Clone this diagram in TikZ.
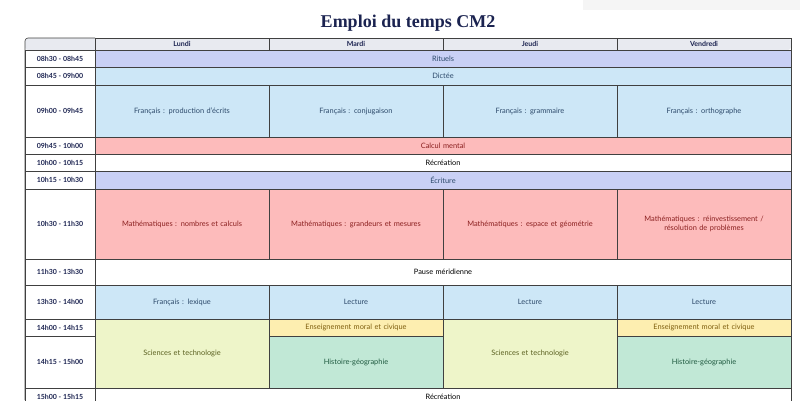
\documentclass[tikz,border=0pt]{standalone}
\usepackage{fontspec}
\setmainfont{Lato}
\newfontfamily\titlefont{Liberation Serif}
\definecolor{lav}{HTML}{C9D0F5}
\definecolor{sky}{HTML}{CDE7F7}
\definecolor{rose}{HTML}{FDBBBB}
\definecolor{sand}{HTML}{FDEEB0}
\definecolor{lime}{HTML}{EEF5C9}
\definecolor{mint}{HTML}{C1E8D6}
\definecolor{hdr}{HTML}{E8EAF0}
\definecolor{navy}{HTML}{1B2350}
\definecolor{tblue}{HTML}{2D4A6B}
\definecolor{tred}{HTML}{8B2020}
\definecolor{tsand}{HTML}{806010}
\definecolor{tlime}{HTML}{5A6020}
\definecolor{tmint}{HTML}{1F5A40}
\newcommand{\slot}[7]{% name, x1, y1, x2, y2, fill, text colour / text
  \draw[cellline, fill=#6] (#2,#3) rectangle (#4,#5);
  \node (#1) [celltext] at ($(#2,#3)!0.5!(#4,#5)$) {#7};}
\usetikzlibrary{calc}
\begin{document}
\begin{tikzpicture}[x=1pt, y=-1pt,
		cellline/.style={draw=black!75, line width=0.6pt},
		celltext/.style={font=\fontsize{7.4}{9.5}\selectfont, align=center, text width=165pt},
		timetext/.style={font=\fontsize{7}{8}\selectfont\bfseries, text=navy},
	]
		\useasboundingbox (0,0) rectangle (800,400);
		\fill[black!4] (583,0) rectangle (800,10);
		\node (title) at (408,23) {\titlefont\bfseries\fontsize{18}{20}\selectfont\color{navy}Emploi du temps CM2};

		% header
		\fill[hdr, rounded corners=3pt] (25,38) rectangle (791,50);
		\foreach \x/\d in {95/Lundi,269/Mardi,443/Jeudi,617/Vendredi} {
			\draw[cellline] (\x,38) rectangle (\x+174,50);
			\node (h\d) [timetext] at (\x+87,44) {\d};
		}
		\draw[cellline, rounded corners=3pt] (95,38) -- (25,38) -- (25,400);

		% time column
		\foreach \a/\b/\t [count=\i] in {50/67/08h30 - 08h45, 67/85/08h45 - 09h00, 85/137/09h00 - 09h45,
			137/154/09h45 - 10h00, 154/171/10h00 - 10h15, 171/189/10h15 - 10h30, 189/259/10h30 - 11h30,
			259/285/11h30 - 13h30, 285/319/13h30 - 14h00, 319/336/14h00 - 14h15, 336/388/14h15 - 15h00,
			388/406/15h00 - 15h15} {
			\draw[cellline] (25,\a) rectangle (95,\b);
			\node (t\i) [timetext] at (60,{(\a+\b)/2}) {\t};
		}

		% whole-week slots
		\slot{rit}{95}{50}{791}{67}{lav}{\color{tblue}Rituels}
		\slot{dic}{95}{67}{791}{85}{sky}{\color{tblue}Dictée}
		\slot{cal}{95}{137}{791}{154}{rose}{\color{tred}Calcul mental}
		\slot{rec}{95}{154}{791}{171}{white}{Récréation}
		\slot{ecr}{95}{171}{791}{189}{lav}{\color{tblue}Écriture}
		\slot{pau}{95}{259}{791}{285}{white}{Pause méridienne}
		\slot{recb}{95}{388}{791}{406}{white}{Récréation}

		% français
		\slot{fl}{95}{85}{269}{137}{sky}{\color{tblue}Français : production d'écrits}
		\slot{fm}{269}{85}{443}{137}{sky}{\color{tblue}Français : conjugaison}
		\slot{fj}{443}{85}{617}{137}{sky}{\color{tblue}Français : grammaire}
		\slot{fv}{617}{85}{791}{137}{sky}{\color{tblue}Français : orthographe}

		% mathématiques
		\slot{ml}{95}{189}{269}{259}{rose}{\color{tred}Mathématiques : nombres et calculs}
		\slot{mm}{269}{189}{443}{259}{rose}{\color{tred}Mathématiques : grandeurs et mesures}
		\slot{mj}{443}{189}{617}{259}{rose}{\color{tred}Mathématiques : espace et géométrie}
		\slot{mv}{617}{189}{791}{259}{rose}{\color{tred}Mathématiques : réinvestissement /\\résolution de problèmes}

		% après-midi
		\slot{ll}{95}{285}{269}{319}{sky}{\color{tblue}Français : lexique}
		\slot{lm}{269}{285}{443}{319}{sky}{\color{tblue}Lecture}
		\slot{lj}{443}{285}{617}{319}{sky}{\color{tblue}Lecture}
		\slot{lv}{617}{285}{791}{319}{sky}{\color{tblue}Lecture}
		\slot{sl}{95}{319}{269}{388}{lime}{\color{tlime}Sciences et technologie}
		\slot{sj}{443}{319}{617}{388}{lime}{\color{tlime}Sciences et technologie}
		\slot{em}{269}{319}{443}{336}{sand}{\color{tsand}Enseignement moral et civique}
		\slot{ev}{617}{319}{791}{336}{sand}{\color{tsand}Enseignement moral et civique}
		\slot{hm}{269}{336}{443}{388}{mint}{\color{tmint}Histoire-géographie}
		\slot{hv}{617}{336}{791}{388}{mint}{\color{tmint}Histoire-géographie}
	\end{tikzpicture}
\end{document}
